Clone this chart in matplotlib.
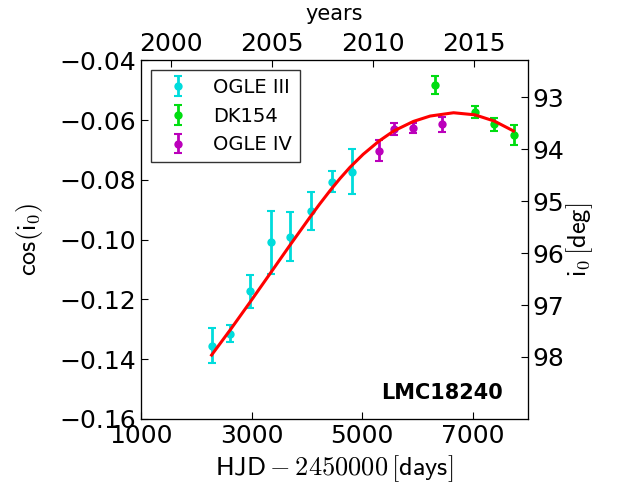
import matplotlib
matplotlib.use("Agg")
import matplotlib.pyplot as plt
import numpy as np

plt.rcParams['font.family'] = 'DejaVu Sans'
plt.rcParams['mathtext.fontset'] = 'cm'
plt.rcParams['xtick.direction'] = 'in'
plt.rcParams['ytick.direction'] = 'in'

# OGLE III
ogle3_t = [2277, 2616, 2980, 3343, 3700, 4069, 4463, 4820]
ogle3_c = [-0.1355, -0.1315, -0.1173, -0.1009, -0.0990, -0.0904, -0.0806, -0.0772]
ogle3_e = [0.0059, 0.0028, 0.0054, 0.0106, 0.0082, 0.0064, 0.0035, 0.0074]

# DK154
dk_t = [6314, 7041, 7393, 7738]
dk_c = [-0.0482, -0.0573, -0.0614, -0.0649]
dk_e = [0.0031, 0.0019, 0.0022, 0.0033]

# OGLE IV
ogle4_t = [5304, 5571, 5927, 6436]
ogle4_c = [-0.0702, -0.0629, -0.0627, -0.0614]
ogle4_e = [0.0035, 0.0021, 0.0017, 0.0026]

# model curve
fit_t = [2277, 2629, 2961, 3325, 3688, 4051, 4230, 4414, 4600, 4778,
         5019, 5304, 5571, 5927, 6231, 6654, 7041, 7393, 7738]
fit_c = [-0.1386, -0.1298, -0.1212, -0.1116, -0.1020, -0.0926, -0.0881,
         -0.0837, -0.0795, -0.0758, -0.0714, -0.0670, -0.0636, -0.0604,
         -0.0586, -0.0575, -0.0582, -0.0603, -0.0636]

years = [2000, 2005, 2010, 2015]
year_days = [1544.5, 3371.5, 5197.5, 7023.5]  # Jan 1 of each year, HJD-2450000
deg_ticks = [93, 94, 95, 96, 97, 98]
cos_ticks = [-0.16, -0.14, -0.12, -0.10, -0.08, -0.06, -0.04]

fig = plt.figure(figsize=(6.2, 4.92), dpi=100)
ax = fig.add_axes([0.2274, 0.1484, 0.6242, 0.7287])

eb = dict(fmt='o', ms=6, elinewidth=2, capsize=3, capthick=1.5, mec='none')
ax.errorbar(ogle3_t, ogle3_c, yerr=ogle3_e, color='#00DCDC', label='OGLE III', **eb)
ax.errorbar(dk_t, dk_c, yerr=dk_e, color='#00DD11', label='DK154', **eb)
ax.errorbar(ogle4_t, ogle4_c, yerr=ogle4_e, color='#BB00BB', label='OGLE IV', **eb)
ax.plot(fit_t, fit_c, color='red', lw=2.2, zorder=5)

ax.set_xlim(1000, 8000)
ax.set_ylim(-0.16, -0.04)
ax.set_xticks([1000, 3000, 5000, 7000])
ax.set_yticks(cos_ticks)
ax.set_yticklabels([('%.2f' % v).replace('-', '\u2212') for v in cos_ticks])
ax.tick_params(labelsize=18, length=5, top=False, right=False)
ax.set_xlabel(r'$\mathsf{HJD} - 2450000\,[\mathsf{days}]$', fontsize=19)
ax.set_ylabel(r'$\mathsf{cos}(\mathsf{i}_0)$', fontsize=19, labelpad=10)

leg = ax.legend(loc='upper left', numpoints=1, fontsize=14, fancybox=False,
                handlelength=2.0)
leg.get_frame().set_edgecolor('black')

ax.text(0.935, 0.045, 'LMC18240', transform=ax.transAxes, ha='right', va='bottom',
        fontsize=15, fontweight='bold')

# top axis in calendar years
axt = ax.twiny()
axt.set_xlim(ax.get_xlim())
axt.set_xticks(year_days)
axt.set_xticklabels([str(y) for y in years])
axt.tick_params(labelsize=18, length=5)
axt.set_xlabel('years', fontsize=15, labelpad=8)

# right axis in inclination degrees
axr = ax.twinx()
axr.set_ylim(ax.get_ylim())
axr.set_yticks(np.cos(np.radians(deg_ticks)))
axr.set_yticklabels([str(d) for d in deg_ticks])
axr.tick_params(labelsize=18, length=5)
axr.set_ylabel(r'$\mathsf{i}_0\,[\mathsf{deg}]$', fontsize=19, labelpad=0)

fig.savefig('out.png', dpi=100)
